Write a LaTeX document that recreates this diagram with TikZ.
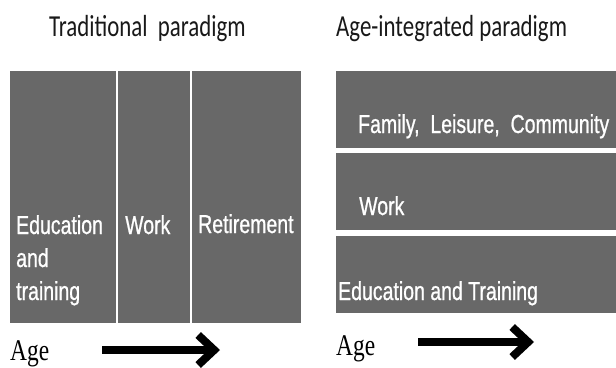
\documentclass[tikz,border=0pt]{standalone}
\usepackage{fontspec}
\newfontfamily\titlefont{Carlito}[FakeStretch=0.75]
\newfontfamily\bandfont{Liberation Sans}[FakeStretch=0.75,FakeBold=0.8]
\newfontfamily\agefont{Liberation Serif}[FakeStretch=0.78]
\usetikzlibrary{arrows.meta}
\definecolor{bandgray}{RGB}{104,104,104}
\tikzset{>={Straight Barb[length=16pt,width=30pt]},
  band/.style={fill=bandgray, draw=none, inner sep=0pt, outer sep=0pt, anchor=north west},
  bandtext/.style={text=white, inner sep=0pt, anchor=base west, font=\bandfont\fontsize{26}{33}\selectfont},
  headtext/.style={text=black!90, inner sep=0pt, anchor=base west, font=\titlefont\fontsize{30.5}{36}\selectfont},
  agetext/.style={inner sep=0pt, anchor=base west, font=\agefont\fontsize{30}{36}\selectfont},
  agearrow/.style={line width=8pt, ->}}

\begin{document}
\begin{tikzpicture}[x=1pt, y=-1pt]
\useasboundingbox (0,0) rectangle (616,367);
\node[headtext] (tradHead) at (49,36) {Traditional\ \ paradigm};
\node[band, minimum width=106pt, minimum height=252pt] (tradEdu) at (10,71) {};
\node[band, minimum width=72pt, minimum height=252pt] (tradWork) at (118,71) {};
\node[band, minimum width=109pt, minimum height=252pt] (tradRet) at (192,71) {};
\node[bandtext, align=left] (tradEduText) at (16,300) {Education\\and\\training};
\node[bandtext] (tradWorkText) at (125,234) {Work};
\node[bandtext] (tradRetText) at (198,233) {Retirement};
\node[agetext] (tradAge) at (10,360) {Age};
\coordinate (tradFrom) at (102,350);
\coordinate (tradTo) at (220,350);
\draw[agearrow] (tradFrom) -- (tradTo);
\node[headtext] (ageHead) at (336,36) {Age-integrated paradigm};
\node[band, minimum width=280pt, minimum height=77pt] (ageFam) at (336,71) {};
\node[band, minimum width=280pt, minimum height=77pt] (ageWork) at (336,153) {};
\node[band, minimum width=280pt, minimum height=77pt] (ageEdu) at (336,236) {};
\node[bandtext] (ageFamText) at (358,133) {Family,\ \ Leisure,\ \ Community};
\node[bandtext] (ageWorkText) at (359,215) {Work};
\node[bandtext] (ageEduText) at (338,300) {Education and Training};
\node[agetext] (ageAge) at (336,355) {Age};
\coordinate (ageFrom) at (418,342);
\coordinate (ageTo) at (534,342);
\draw[agearrow] (ageFrom) -- (ageTo);
\end{tikzpicture}
\end{document}
